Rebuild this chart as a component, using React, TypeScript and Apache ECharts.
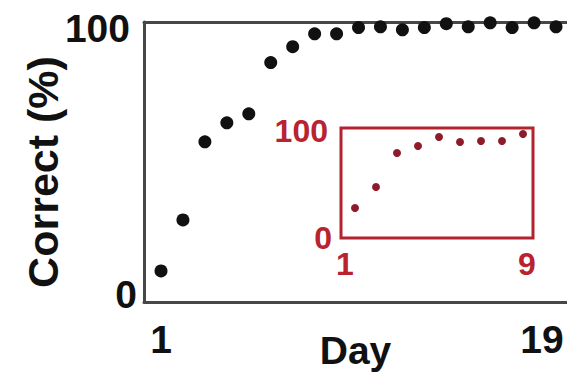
import React, { useEffect, useRef } from 'react';
import * as echarts from 'echarts';

const mainDays = [1, 2, 3, 4, 5, 6, 7, 8, 9, 10, 11, 12, 13, 14, 15, 16, 17, 18, 19];
const mainCorrect = [11.1, 29.3, 57.2, 64.0, 67.2, 85.5, 91.2, 95.8, 95.8, 98.0, 98.3, 97.2, 98.0, 99.4, 98.3, 99.7, 98.0, 99.7, 98.3];
const insetDays = [1, 2, 3, 4, 5, 6, 7, 8, 9];
const insetCorrect = [27.3, 46.4, 77.3, 83.6, 91.8, 87.3, 88.2, 88.2, 94.5];
const mainXTicks = [1, 19];
const mainYTicks = [0, 100];
const insetXTicks = [1, 9];
const insetYTicks = [0, 100];

const FONT = "'Liberation Sans', Arial, Helvetica, sans-serif";
const BLACK = '#111111';
const AXIS = '#474747';
const RED = '#b3222f';
const RED_TEXT = '#b8232f';
const RED_DOT = '#8c1c2b';

export default function App() {
  const ref = useRef<HTMLDivElement>(null);
  useEffect(() => {
    if (!ref.current) return;
    const chart = echarts.init(ref.current, undefined, { renderer: 'svg' });
    const mainLbl = { fontFamily: FONT, fontWeight: 'bold' as const, fontSize: 39, color: BLACK };
    const insetLbl = { fontFamily: FONT, fontWeight: 'bold' as const, fontSize: 32, color: RED_TEXT };
    chart.setOption({
      animation: false,
      backgroundColor: '#ffffff',
      grid: [
        { left: 144, right: 0, top: 22, bottom: 70, outerBoundsMode: 'none', containLabel: false },
        { left: 341, width: 192, top: 128, height: 110, show: true, borderColor: RED, borderWidth: 3, backgroundColor: 'transparent', outerBoundsMode: 'none', containLabel: false },
      ],
      xAxis: [
        {
          gridIndex: 0, type: 'value', min: 0.225, max: 19.5, position: 'bottom',
          axisLine: { show: true, onZero: false, lineStyle: { color: AXIS, width: 3 } },
          axisTick: { show: false }, splitLine: { show: false },
          axisLabel: {
            customValues: mainXTicks, margin: 18, ...mainLbl,
            formatter: (v: number) => (v === 19 ? `{r|${v}}` : `{c|${v}}`),
            rich: { c: { ...mainLbl }, r: { ...mainLbl, padding: [0, 28, 0, 0] } },
          },
          name: 'Day', nameLocation: 'middle', nameGap: 29, nameMoveOverlap: false,
          nameTextStyle: { ...mainLbl },
        },
        {
          gridIndex: 0, type: 'value', min: 0.225, max: 19.5, position: 'top',
          axisLine: { show: true, onZero: false, lineStyle: { color: AXIS, width: 3 } },
          axisTick: { show: false }, splitLine: { show: false }, axisLabel: { show: false },
        },
        {
          gridIndex: 1, type: 'value', min: 0.333, max: 9.476, position: 'bottom',
          axisLine: { show: false, onZero: false }, axisTick: { show: false }, splitLine: { show: false },
          axisLabel: {
            customValues: insetXTicks, margin: 10, ...insetLbl,
            formatter: (v: number) => (v === 1 ? `{a|${v}}` : `{b|${v}}`),
            rich: { a: { ...insetLbl, padding: [0, 20, 0, 0] }, b: { ...insetLbl, padding: [0, 0, 0, 8] } },
          },
        },
      ],
      yAxis: [
        {
          gridIndex: 0, type: 'value', min: 0, max: 100,
          axisLine: { show: true, onZero: false, lineStyle: { color: AXIS, width: 3 } },
          axisTick: { show: false }, splitLine: { show: false },
          axisLabel: {
            customValues: mainYTicks, margin: 7, ...mainLbl,
            formatter: (v: number) => (v === 100 ? `{h|${v}}` : `{l|${v}}`),
            rich: { h: { ...mainLbl, padding: [12, 7, 0, 0] }, l: { ...mainLbl, padding: [0, 0, 16, 0] } },
          },
          name: 'Correct (%)', nameLocation: 'middle', nameGap: 80, nameRotate: 90, nameMoveOverlap: false,
          nameTextStyle: { ...mainLbl, fontSize: 43, padding: [0, 20, 0, 0] },
        },
        {
          gridIndex: 1, type: 'value', min: 0, max: 100,
          axisLine: { show: false, onZero: false }, axisTick: { show: false }, splitLine: { show: false },
          axisLabel: {
            customValues: insetYTicks, margin: 9, ...insetLbl,
            formatter: (v: number) => (v === 100 ? `{h|${v}}` : `{l|${v}}`),
            rich: { h: { ...insetLbl, padding: [6, 4, 0, 0] }, l: { ...insetLbl } },
          },
        },
      ],
      series: [
        {
          type: 'scatter', xAxisIndex: 0, yAxisIndex: 0, symbolSize: 13,
          itemStyle: { color: BLACK, opacity: 1 },
          data: mainDays.map((d, i) => [d, mainCorrect[i]]),
          z: 3,
        },
        {
          type: 'scatter', xAxisIndex: 2, yAxisIndex: 1, symbolSize: 8,
          itemStyle: { color: RED_DOT, opacity: 1 },
          data: insetDays.map((d, i) => [d, insetCorrect[i]]),
          z: 3,
        },
      ],
    });
    return () => chart.dispose();
  }, []);
  return <div ref={ref} style={{ position: 'absolute', left: 0, top: 0, width: 567, height: 372 }} />;
}
